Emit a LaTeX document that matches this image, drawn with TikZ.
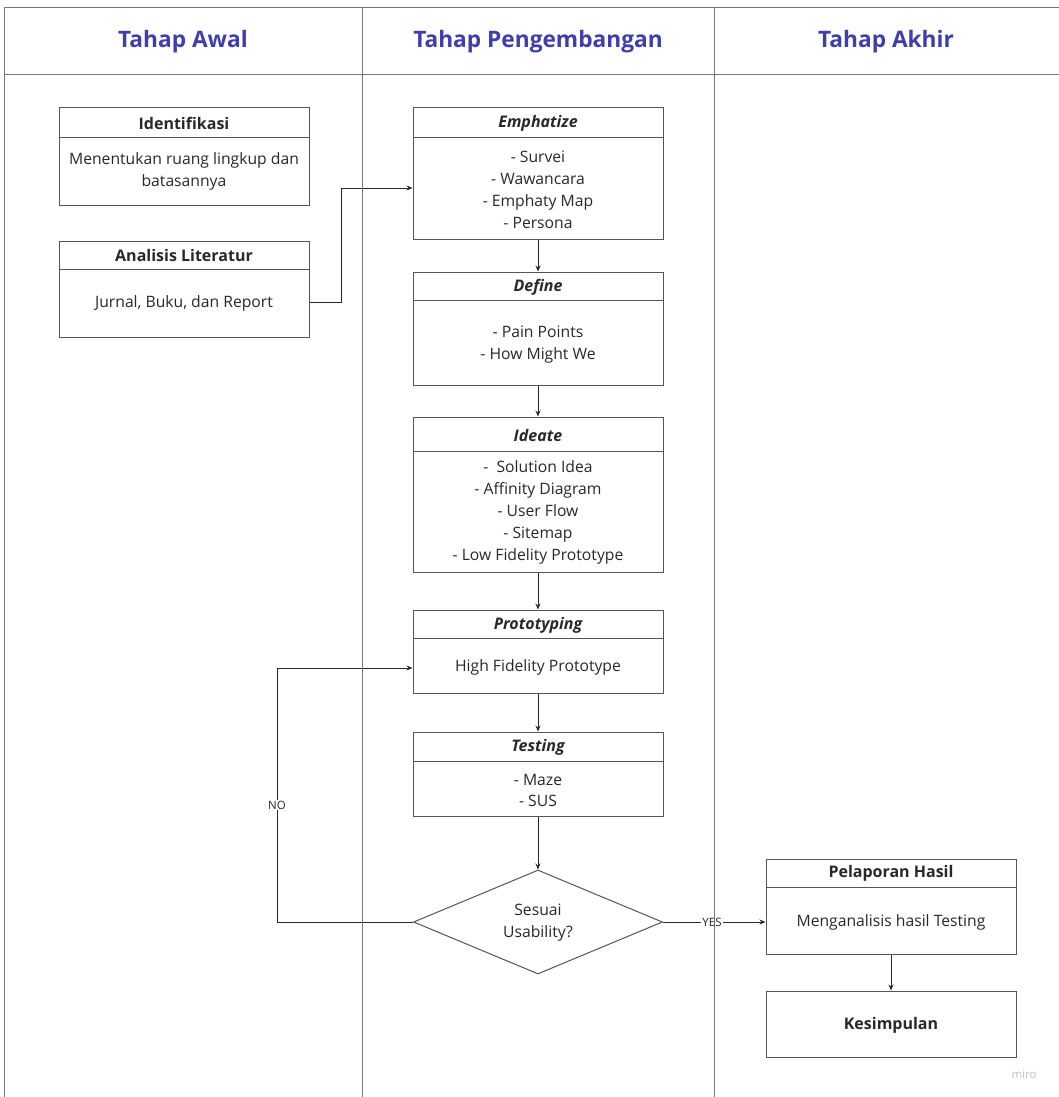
\documentclass[tikz,border=0pt]{standalone}
\usepackage{fontspec}
\setmainfont{Open Sans}
\usetikzlibrary{arrows.meta,shapes.geometric,calc}
\definecolor{hdblue}{RGB}{62,62,172}
\definecolor{lncol}{RGB}{85,85,85}
\definecolor{txcol}{RGB}{40,40,40}
\tikzset{
  frame/.style={draw=lncol!80, line width=1pt},
  boxs/.style={draw=lncol, line width=1pt, minimum width=250pt, inner sep=0pt},
  hline/.style={draw=lncol, line width=1pt},
  ttl/.style={font=\fontsize{16}{18}\selectfont\bfseries, text=txcol},
  ttli/.style={font=\fontsize{16}{18}\selectfont\bfseries\itshape, text=txcol},
  bodyt/.style={font=\fontsize{15.7}{21.8}\selectfont, text=txcol, align=center},
  head/.style={font=\fontsize{22.7}{26}\selectfont\bfseries, text=hdblue},
  conn/.style={draw=txcol, line width=0.9pt},
  arr/.style={conn, -{Stealth[length=6pt,width=5pt]}},
  lbl/.style={font=\fontsize{11.5}{13}\selectfont, text=txcol, fill=white, inner sep=1pt}
}
\begin{document}
\begin{tikzpicture}[x=1pt,y=-1pt]
\useasboundingbox (0,0) rectangle (1059,1097);
% Identifikasi
\node[boxs, minimum height=97pt] (idf) at (184,156.5) {};
\draw[hline] ($(idf.north west)+(0,30)$) -- ($(idf.north east)+(0,30)$);
\node[ttl] (idft) at (184,123) {Identifikasi};
\node[bodyt] (idfb) at (184,171.5) {Menentukan ruang lingkup dan\\batasannya};

% Analisis Literatur
\node[boxs, minimum height=96pt] (ana) at (184,289) {};
\draw[hline] ($(ana.north west)+(0,29)$) -- ($(ana.north east)+(0,29)$);
\node[ttl] (anat) at (184,255.5) {Analisis Literatur};
\node[bodyt] (anab) at (184,303) {Jurnal, Buku, dan Report};

% Emphatize
\node[boxs, minimum height=131pt] (emp) at (538,173.5) {};
\draw[hline] ($(emp.north west)+(0,30)$) -- ($(emp.north east)+(0,30)$);
\node[ttli] (empt) at (538,123) {Emphatize};
\node[bodyt] (empb) at (538,190) {- Survei\\- Wawancara\\- Emphaty Map\\- Persona};

% Define
\node[boxs, minimum height=113pt] (def) at (538,328.5) {};
\draw[hline] ($(def.north west)+(0,29)$) -- ($(def.north east)+(0,29)$);
\node[ttli] (deft) at (538,287) {Define};
\node[bodyt] (defb) at (538,344.5) {- Pain Points\\- How Might We};

% Ideate
\node[boxs, minimum height=155pt] (ide) at (538,494.5) {};
\draw[hline] ($(ide.north west)+(0,35)$) -- ($(ide.north east)+(0,35)$);
\node[ttli] (idet) at (538,435) {Ideate};
\node[bodyt] (ideb) at (538,512.5) {-\ \ Solution Idea\\- Affinity Diagram\\- User Flow\\- Sitemap\\- Low Fidelity Prototype};

% Prototyping
\node[boxs, minimum height=83pt] (pro) at (538,651.5) {};
\draw[hline] ($(pro.north west)+(0,29)$) -- ($(pro.north east)+(0,29)$);
\node[ttli] (prot) at (538,625) {Prototyping};
\node[bodyt] (prob) at (538,667) {High Fidelity Prototype};

% Testing
\node[boxs, minimum height=84pt] (tes) at (538,774) {};
\draw[hline] ($(tes.north west)+(0,30)$) -- ($(tes.north east)+(0,30)$);
\node[ttli] (test) at (538,747) {Testing};
\node[bodyt] (tesb) at (538,790.5) {- Maze\\- SUS};

% Diamond
\node[diamond, draw=lncol, line width=1pt, minimum width=249pt, minimum height=104pt, inner sep=0pt, aspect=2.4] (dec) at (538,922) {};
\node[bodyt] (decb) at (538,923) {Sesuai\\Usability?};

% Pelaporan Hasil
\node[boxs, minimum height=95pt] (pel) at (891,906.5) {};
\draw[hline] ($(pel.north west)+(0,29)$) -- ($(pel.north east)+(0,29)$);
\node[ttl] (pelt) at (891,873.5) {Pelaporan Hasil};
\node[bodyt] (pelb) at (891,922) {Menganalisis hasil Testing};

% Kesimpulan
\node[boxs, minimum height=66pt] (kes) at (891,1024) {};
\node[ttl] (kest) at (891,1025) {Kesimpulan};

\node[font=\fontsize{11.5}{12}\selectfont, text=black!25] (miro) at (1024,1074) {miro};

% connectors
\coordinate (c1) at (341,302);
\draw[arr] (ana.east |- c1) -- (c1) -- (341,188) -- (emp.west |- 0,188);
\draw[arr] (emp.south) -- (def.north);
\draw[arr] (def.south) -- (ide.north);
\draw[arr] (ide.south) -- (pro.north);
\draw[arr] (pro.south) -- (tes.north);
\draw[arr] (tes.south) -- (dec.north);
\draw[arr] (dec.west) -- (277,922) -- (277,668) -- (pro.west |- 0,668);
\node[lbl] (nol) at (277,805) {NO};
\draw[arr] (dec.east) -- (pel.west |- dec.east);
\node[lbl] (yesl) at (712,922) {YES};
\draw[arr] (pel.south) -- (kes.north);

% frame (drawn last so the divider crosses the YES label)
\draw[frame] (1059,8) -- (4,8) -- (4,1097);
\draw[frame] (4,75) -- (1059,75);
\draw[frame] (362,8) -- (362,1097);
\draw[frame] (714,8) -- (714,1097);
\node[head] (h1) at (183,42) {Tahap Awal};
\node[head] (h2) at (538,42) {Tahap Pengembangan};
\node[head] (h3) at (886,42) {Tahap Akhir};
\end{tikzpicture}
\end{document}
